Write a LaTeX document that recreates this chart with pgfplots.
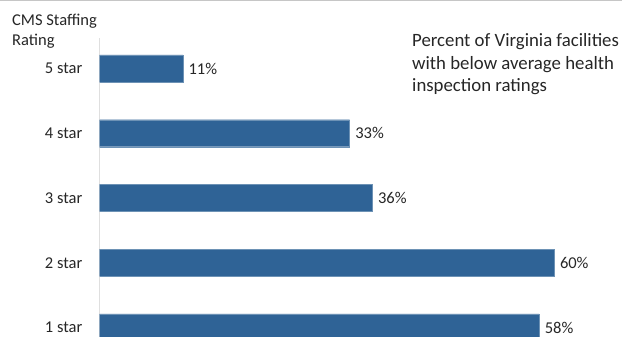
\documentclass[border=0pt]{standalone}
\usepackage{fontspec}
\setmainfont{Carlito}
\usepackage{pgfplots}
\pgfplotsset{compat=1.18}
\definecolor{barblue}{HTML}{2F6396}
\definecolor{txt}{HTML}{262626}
\newcommand{\cf}{\fontsize{16.5}{20}\selectfont}
\newcommand{\tf}{\fontsize{18.8}{22.5}\selectfont}
\begin{document}
\begin{tikzpicture}[x=1pt,y=1pt]
\useasboundingbox (0,0) rectangle (622,337);
\draw[gray!45, line width=1pt] (0,336.5) -- (622,336.5);
\begin{axis}[
 at={(99.5pt,0pt)}, anchor=south west,
 scale only axis, width=522.5pt, height=299pt,
 xmin=0, xmax=68.93, ymin=0.8533, ymax=5.471,
 xbar, bar width=27pt, bar shift=0pt,
 axis x line=none, axis y line*=left,
 y axis line style={draw=gray!25,-, line width=0.8pt},
 ytick={1,2,3,4,5}, yticklabels={1 star,2 star,3 star,4 star,5 star},
 major tick length=0pt,
 yticklabel style={font=\cf, text=txt, anchor=east, inner sep=0pt, xshift=-17pt},
 /pgf/number format/assume math mode=true,
 nodes near coords={\pgfmathprintnumber{\pgfplotspointmeta}\%},
 nodes near coords style={font=\cf, text=txt, anchor=west, inner sep=0pt, xshift=5.5pt},
 clip=true,
]
\addplot[fill=barblue, draw=barblue!70!white] coordinates {(58,1) (60,2) (36,3) (33,4) (11,5)};
\end{axis}
\begin{scope}[every node/.style={text=txt, anchor=base west, inner sep=0pt}]
\node[font=\cf] at (12,311) {CMS Staffing};
\node[font=\cf] at (12,291.5) {Rating};
\node[font=\tf] at (412,290.3) {Percent of Virginia facilities};
\node[font=\tf] at (412,267.7) {with below average health};
\node[font=\tf] at (412,245.3) {inspection ratings};
\end{scope}
\end{tikzpicture}
\end{document}
